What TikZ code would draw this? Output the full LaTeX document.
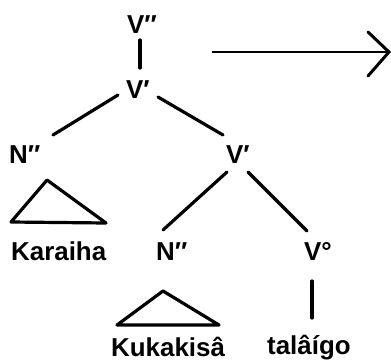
\documentclass[tikz,border=0pt]{standalone}
\usepackage{fontspec}
\setmainfont{Liberation Sans}
\begin{document}
\begin{tikzpicture}[x=1bp,y=-1bp,
  lbl/.style={font=\bfseries\fontsize{26}{26}\selectfont, inner sep=0pt, anchor=base west},
  edge/.style={line width=3.2bp, line cap=round},
  tri/.style={line width=3.2bp, line join=round}]
\useasboundingbox (0,0) rectangle (391,361);
% nodes
\node[lbl] (vpp) at (127,33) {V′′};
\node[lbl] (vp1) at (126,98) {V′};
\node[lbl] (np1) at (9,163) {N′′};
\node[lbl] (vp2) at (226,163) {V′};
\node[lbl] (kar) at (11,260) {Karaiha};
\node[lbl] (np2) at (156,260) {N′′};
\node[lbl] (v0) at (304,260) {V°};
\node[lbl] (kuk) at (111,356) {Kukakisâ};
\node[lbl] (tal) at (267,354) {talâígo};
% connector end points
\coordinate (vpp-b) at (140,40);
\coordinate (vp1-t) at (140,68);
\coordinate (vp1-l) at (118,95);
\coordinate (np1-t) at (53,135);
\coordinate (vp1-r) at (158,97);
\coordinate (vp2-t) at (223,135);
\coordinate (vp2-l) at (227,172);
\coordinate (np2-t) at (163,230);
\coordinate (vp2-r) at (248,172);
\coordinate (v0-t) at (307,231);
\coordinate (v0-b) at (312,281);
\coordinate (tal-t) at (312,318);
\draw[edge] (vpp-b) -- (vp1-t);
\draw[edge] (vp1-l) -- (np1-t);
\draw[edge] (vp1-r) -- (vp2-t);
\draw[edge] (vp2-l) -- (np2-t);
\draw[edge] (vp2-r) -- (v0-t);
\draw[edge] (v0-b) -- (tal-t);
% triangles
\draw[tri] (47,180) -- (106,223) -- (11,222) -- cycle;
\draw[tri] (163,291) -- (219,325) -- (117,325) -- cycle;
% arrow
\coordinate (arrS) at (212,52);
\coordinate (arrE) at (389,52);
\draw[line width=2.2bp] (arrS) -- (arrE);
\draw[line width=3bp, line cap=round, line join=miter] (368,32) -- (arrE) -- (368,76);
\end{tikzpicture}
\end{document}
